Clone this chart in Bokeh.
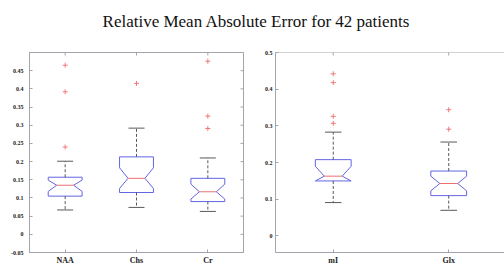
import math
from bokeh.plotting import figure
from bokeh.models import Div, FixedTicker, Range1d
from bokeh.layouts import column, row
from bokeh.embed import file_html
from bokeh.resources import INLINE

title_text = "Relative Mean Absolute Error for 42 patients"

# ---- left panel data ----
left_labels = ["NAA", "Chs", "Cr"]
left_q1 = [0.105, 0.115, 0.090]
left_med = [0.135, 0.154, 0.117]
left_q3 = [0.157, 0.213, 0.154]
left_notch_lo = [0.118, 0.126, 0.097]
left_notch_hi = [0.149, 0.183, 0.138]
left_whisk_lo = [0.067, 0.074, 0.063]
left_whisk_hi = [0.201, 0.292, 0.210]
left_outliers = [[0.465, 0.392, 0.240], [0.415], [0.476, 0.325, 0.291]]
left_yticks = [-0.05, 0.0, 0.05, 0.1, 0.15, 0.2, 0.25, 0.3, 0.35, 0.4, 0.45]
left_ytick_labels = ["-0.05", "0", "0.05", "0.1", "0.15", "0.2", "0.25", "0.3", "0.35", "0.4", "0.45"]

# ---- right panel data ----
right_labels = ["mI", "Glx"]
right_q1 = [0.150, 0.110]
right_med = [0.163, 0.143]
right_q3 = [0.208, 0.177]
right_notch_lo = [0.150, 0.123]
right_notch_hi = [0.190, 0.163]
right_whisk_lo = [0.091, 0.070]
right_whisk_hi = [0.283, 0.256]
right_outliers = [[0.442, 0.418, 0.326, 0.307], [0.344, 0.291]]
right_yticks = [0.0, 0.1, 0.2, 0.3, 0.4, 0.5]
right_ytick_labels = ["0", "0.1", "0.2", "0.3", "0.4", "0.5"]

BOX_COLOR = "#6464e4"
MED_COLOR = "#f07070"
WHISK_COLOR = "#585858"
OUT_COLOR = "#f07878"
AXIS_COLOR = "#a4a4ac"
LABEL_COLOR = "#1a1a1a"
FONT = "Liberation Serif"


def style_axis(ax, ticks, labels, size, standoff):
    ax.ticker = FixedTicker(ticks=ticks)
    ax.axis_line_color = AXIS_COLOR
    ax.major_tick_line_color = AXIS_COLOR
    ax.major_tick_in = 3
    ax.major_tick_out = 0
    ax.minor_tick_line_color = None
    ax.major_label_text_font = FONT
    ax.major_label_text_font_style = "bold"
    ax.major_label_text_color = LABEL_COLOR
    ax.major_label_text_font_size = size
    ax.major_label_standoff = standoff
    ax.major_label_overrides = {t: l for t, l in zip(ticks, labels)}


def panel(labels, q1, med, q3, nlo, nhi, wlo, whi, outl, yticks, yticklabels,
          xr, yr, width, height, bl, br, box_w, cap_w, right_axis, ystandoff):
    p = figure(width=width, height=height, x_range=Range1d(*xr), y_range=Range1d(*yr),
               output_backend="svg", toolbar_location=None,
               min_border_left=bl, min_border_right=br, min_border_top=14, min_border_bottom=14)
    p.outline_line_color = AXIS_COLOR if right_axis else None
    p.xgrid.visible = False
    p.ygrid.visible = False
    p.background_fill_color = "white"
    p.border_fill_color = "white"

    xs_pos = list(range(1, len(labels) + 1))
    style_axis(p.xaxis[0], xs_pos, labels, "8px", 3)
    style_axis(p.yaxis[0], yticks, yticklabels, "6px", ystandoff)

    # mirrored inward ticks on the top edge (and right edge), clipped to the frame
    p.scatter(xs_pos, [yr[1]] * len(xs_pos), marker="dash", angle=math.pi / 2, size=6,
              line_color=AXIS_COLOR, line_width=1)
    p.segment(xr[0], yr[1], xr[1], yr[1], line_color=AXIS_COLOR, line_width=1)
    if right_axis:
        p.scatter([xr[1]] * len(yticks), yticks, marker="dash", size=6,
                  line_color=AXIS_COLOR, line_width=1)

    # notched boxes
    pxs, pys = [], []
    for x, a, m, b, nl, nh in zip(xs_pos, q1, med, q3, nlo, nhi):
        h = box_w / 2
        n = box_w / 4
        pxs.append([x - h, x + h, x + h, x + n, x + h, x + h, x - h, x - h, x - n, x - h])
        pys.append([b, b, nh, m, nl, a, a, nl, m, nh])
    p.patches(pxs, pys, fill_color=None, line_color=BOX_COLOR, line_width=1)

    # medians
    p.segment([x - box_w / 4 for x in xs_pos], med, [x + box_w / 4 for x in xs_pos], med,
              line_color=MED_COLOR, line_width=1)
    # whiskers
    p.segment(xs_pos, q3, xs_pos, whi, line_color=WHISK_COLOR, line_dash="3 2", line_width=1)
    p.segment(xs_pos, q1, xs_pos, wlo, line_color=WHISK_COLOR, line_dash="3 2", line_width=1)
    p.segment([x - cap_w / 2 for x in xs_pos], whi, [x + cap_w / 2 for x in xs_pos], whi,
              line_color=WHISK_COLOR, line_width=1)
    p.segment([x - cap_w / 2 for x in xs_pos], wlo, [x + cap_w / 2 for x in xs_pos], wlo,
              line_color=WHISK_COLOR, line_width=1)
    # outliers
    ox, oy = [], []
    for x, vals in zip(xs_pos, outl):
        for v in vals:
            ox.append(x)
            oy.append(v)
    p.scatter(ox, oy, marker="cross", size=5, line_color=OUT_COLOR, line_width=1)
    return p


p1 = panel(left_labels, left_q1, left_med, left_q3, left_notch_lo, left_notch_hi,
           left_whisk_lo, left_whisk_hi, left_outliers, left_yticks, left_ytick_labels,
           (0.5, 3.5), (-0.05, 0.5), 248, 229, 29, 5, 0.475, 0.225, True, 6)
p2 = panel(right_labels, right_q1, right_med, right_q3, right_notch_lo, right_notch_hi,
           right_whisk_lo, right_whisk_hi, right_outliers, right_yticks, right_ytick_labels,
           (0.5, 2.483), (-0.045, 0.5), 256, 229, 27, 0, 0.31, 0.143, False, 3)

title = Div(text=f'<div style="font-family:\'{FONT}\';font-size:17px;color:#111;'
                 f'text-align:center;width:512px;padding-top:10px;">{title_text}</div>',
            width=504, height=38, margin=(0, 0, 0, 0))

layout = column(title, row(p1, p2, spacing=0), spacing=0)

with open("out.html", "w") as f:
    f.write(file_html(layout, INLINE))
